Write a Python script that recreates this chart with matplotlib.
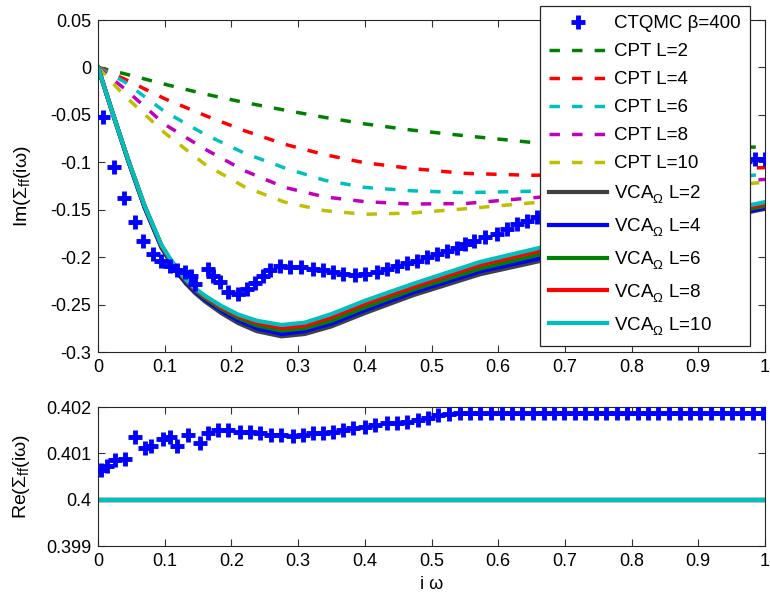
import matplotlib
matplotlib.use('Agg')
from matplotlib import pyplot as plt

plt.rcParams['font.family'] = ['Liberation Sans', 'DejaVu Sans']
plt.rcParams['mathtext.fontset'] = 'custom'
plt.rcParams['mathtext.rm'] = 'Liberation Sans'
plt.rcParams['mathtext.it'] = 'Liberation Sans:italic'
plt.rcParams['axes.unicode_minus'] = False

# CTQMC beta=400, Im part (points hidden behind the legend are left out)
x_im = [0.008, 0.024, 0.039, 0.055, 0.068, 0.083, 0.095, 0.108, 0.118, 0.13,
        0.14, 0.145, 0.165, 0.173, 0.183, 0.195, 0.21, 0.223, 0.235, 0.248,
        0.258, 0.273, 0.288, 0.305, 0.323, 0.338, 0.353, 0.368, 0.385, 0.4,
        0.418, 0.433, 0.448, 0.463, 0.478, 0.493, 0.508, 0.523, 0.538, 0.55,
        0.563, 0.58, 0.598, 0.613, 0.628, 0.643, 0.658, 0.97, 0.985, 1.0]
y_im = [-0.052, -0.1045, -0.138, -0.163, -0.183, -0.197, -0.204, -0.209, -0.214, -0.216,
        -0.22, -0.228, -0.213, -0.22, -0.226, -0.237, -0.239, -0.234, -0.227, -0.22,
        -0.214, -0.209, -0.21, -0.21, -0.213, -0.214, -0.216, -0.218, -0.219, -0.218,
        -0.216, -0.213, -0.209, -0.206, -0.204, -0.2, -0.197, -0.193, -0.19, -0.186,
        -0.183, -0.179, -0.176, -0.17, -0.165, -0.162, -0.158, -0.099, -0.097, -0.096]

# CTQMC Re part
x_re = [0.005, 0.013, 0.025, 0.04, 0.055, 0.07, 0.08, 0.098, 0.108, 0.118,
        0.135, 0.153, 0.165, 0.18, 0.195, 0.213, 0.228, 0.243, 0.26, 0.275,
        0.293, 0.308, 0.323, 0.338, 0.353, 0.368, 0.383, 0.4, 0.415, 0.433,
        0.448, 0.463, 0.479, 0.495, 0.510, 0.526, 0.542, 0.558, 0.573, 0.589,
        0.605, 0.620, 0.636, 0.652, 0.668, 0.683, 0.699, 0.715, 0.730, 0.746,
        0.762, 0.778, 0.793, 0.809, 0.825, 0.840, 0.856, 0.872, 0.888, 0.903,
        0.919, 0.935, 0.950, 0.966, 0.982, 0.997]
y_re = [0.40064, 0.40072, 0.40085, 0.40088, 0.40136, 0.40111, 0.40115, 0.40130, 0.40136, 0.40115,
        0.40140, 0.40122, 0.40144, 0.40150, 0.40150, 0.40147, 0.40145, 0.40143, 0.40140, 0.40140,
        0.40138, 0.40140, 0.40143, 0.40143, 0.40147, 0.40150, 0.40154, 0.40157, 0.40161, 0.40165,
        0.40166, 0.40168, 0.40173, 0.40177, 0.40183, 0.40185, 0.40186, 0.40186, 0.40187, 0.40187,
        0.40187, 0.40188, 0.40187, 0.40188, 0.40188, 0.40187, 0.40188, 0.40188, 0.40187, 0.40188,
        0.40188, 0.40187, 0.40188, 0.40188, 0.40187, 0.40188, 0.40188, 0.40187, 0.40188, 0.40188,
        0.40187, 0.40188, 0.40188, 0.40187, 0.40188, 0.40188]

# CPT curves
x_cpt = [0, 0.04, 0.1, 0.16, 0.22, 0.28, 0.34, 0.4, 0.47, 0.55, 0.65, 0.8, 0.9, 1.0]
cpt_L2 = [0, -0.0067, -0.0177, -0.028, -0.037, -0.045, -0.0527, -0.0595, -0.066, -0.072, -0.079, -0.083, -0.084, -0.084]
cpt_L4 = [0, -0.0123, -0.033, -0.0505, -0.0668, -0.081, -0.092, -0.1005, -0.1065, -0.1117, -0.1137, -0.112, -0.109, -0.1055]
cpt_L6 = [0, -0.0153, -0.0465, -0.0705, -0.0905, -0.106, -0.119, -0.1265, -0.13, -0.132, -0.1305, -0.125, -0.119, -0.1125]
cpt_L8 = [0, -0.0225, -0.06, -0.086, -0.109, -0.1265, -0.1365, -0.1415, -0.144, -0.1435, -0.1375, -0.129, -0.123, -0.118]
cpt_L10 = [0, -0.030, -0.069, -0.102, -0.126, -0.142, -0.151, -0.1548, -0.1535, -0.149, -0.1428, -0.134, -0.127, -0.121]

# VCA_Omega curves
x_vca = [0, 0.02, 0.045, 0.07, 0.095, 0.108, 0.12, 0.132, 0.145, 0.16, 0.185, 0.21, 0.238, 0.275,
         0.31, 0.35, 0.4, 0.473, 0.573, 0.663, 0.8, 0.9, 1.0]
vca_L2 = [0, -0.044, -0.098, -0.148, -0.190, -0.205, -0.2175, -0.228, -0.2375, -0.2465, -0.259, -0.2695, -0.278, -0.2835,
          -0.281, -0.273, -0.259, -0.240, -0.218, -0.204, -0.180, -0.164, -0.149]
vca_L4 = [0, -0.044, -0.098, -0.148, -0.189, -0.204, -0.2165, -0.227, -0.236, -0.2445, -0.2565, -0.2665, -0.275, -0.281,
          -0.278, -0.270, -0.256, -0.237, -0.215, -0.201, -0.178, -0.162, -0.148]
vca_L6 = [0, -0.044, -0.097, -0.147, -0.188, -0.203, -0.2155, -0.2255, -0.2345, -0.243, -0.2545, -0.264, -0.272, -0.2775,
          -0.275, -0.267, -0.253, -0.234, -0.212, -0.197, -0.175, -0.160, -0.146]
vca_L8 = [0, -0.044, -0.097, -0.146, -0.1875, -0.2025, -0.2145, -0.2245, -0.2335, -0.2415, -0.253, -0.262, -0.269, -0.2745,
          -0.272, -0.263, -0.249, -0.231, -0.208, -0.193, -0.172, -0.158, -0.144]
vca_L10 = [0, -0.044, -0.097, -0.146, -0.187, -0.2015, -0.2135, -0.2235, -0.2325, -0.2405, -0.2515, -0.2605, -0.267, -0.2715,
           -0.269, -0.260, -0.246, -0.228, -0.205, -0.190, -0.170, -0.156, -0.142]
vca_re = 0.4

cpt_colors = ['#008000', '#ff0000', '#00bfbf', '#bf00bf', '#bfbf00']
vca_colors = ['#404040', '#0000ff', '#008000', '#ff0000', '#00bfbf']
L_values = [2, 4, 6, 8, 10]

fig = plt.figure(figsize=(7.7, 5.94), dpi=100)
ax1 = fig.add_axes([0.1273, 0.4074, 0.8662, 0.5589])
ax2 = fig.add_axes([0.1273, 0.0808, 0.8662, 0.2340])

ax1.plot(x_im, y_im, linestyle='none', marker='+', color='#0000ff',
         markersize=10, markeredgewidth=3.5, label='CTQMC β=400', zorder=5)
for L, yv, c in zip(L_values, [cpt_L2, cpt_L4, cpt_L6, cpt_L8, cpt_L10], cpt_colors):
    ax1.plot(x_cpt, yv, color=c, linewidth=2.5, dashes=(3, 3.5), label='CPT L=%d' % L)
for L, yv, c in zip(L_values, [vca_L2, vca_L4, vca_L6, vca_L8, vca_L10], vca_colors):
    ax1.plot(x_vca, yv, color=c, linewidth=3, label=r'VCA$^{\ }_{\Omega}$ L=%d' % L)

ax2.plot(x_re, y_re, linestyle='none', marker='+', color='#0000ff',
         markersize=10, markeredgewidth=3.5, zorder=5)
for c in vca_colors:
    ax2.plot([0, 1], [vca_re, vca_re], color=c, linewidth=3)

ax1.set_xlim(0, 1)
ax1.set_ylim(-0.3, 0.05)
ax1.set_xticks([0, 0.1, 0.2, 0.3, 0.4, 0.5, 0.6, 0.7, 0.8, 0.9, 1])
ax1.set_xticklabels(['0', '0.1', '0.2', '0.3', '0.4', '0.5', '0.6', '0.7', '0.8', '0.9', '1'])
ax1.set_yticks([-0.3, -0.25, -0.2, -0.15, -0.1, -0.05, 0, 0.05])
ax1.set_yticklabels(['-0.3', '-0.25', '-0.2', '-0.15', '-0.1', '-0.05', '0', '0.05'])
ax1.set_ylabel(r'Im(Σ$_{\rm ff}$(iω)', fontsize=14, labelpad=12)

ax2.set_xlim(0, 1)
ax2.set_ylim(0.399, 0.402)
ax2.set_xticks([0, 0.1, 0.2, 0.3, 0.4, 0.5, 0.6, 0.7, 0.8, 0.9, 1])
ax2.set_xticklabels(['0', '0.1', '0.2', '0.3', '0.4', '0.5', '0.6', '0.7', '0.8', '0.9', '1'])
ax2.set_yticks([0.399, 0.4, 0.401, 0.402])
ax2.set_yticklabels(['0.399', '0.4', '0.401', '0.402'])
ax2.set_ylabel(r'Re(Σ$_{\rm ff}$(iω)', fontsize=14, labelpad=10)
ax2.set_xlabel('i ω', fontsize=13, labelpad=4)

for ax in [ax1, ax2]:
    ax.tick_params(direction='in', top=True, right=True, length=5, width=0.8,
                   labelsize=13, pad=5, color='#333333')
    for s in ax.spines.values():
        s.set_linewidth(0.8)
        s.set_color('#262626')

leg = ax1.legend(loc='upper right', bbox_to_anchor=(0.974, 0.990), bbox_transform=fig.transFigure,
                 numpoints=1, fontsize=13.5, handlelength=3.1, labelspacing=0.58,
                 borderaxespad=0, borderpad=0.5, handletextpad=0.35, fancybox=False,
                 framealpha=1, edgecolor='#262626')
leg.get_frame().set_linewidth(0.9)
leg.set_zorder(10)

plt.savefig('out.png', dpi=100)
